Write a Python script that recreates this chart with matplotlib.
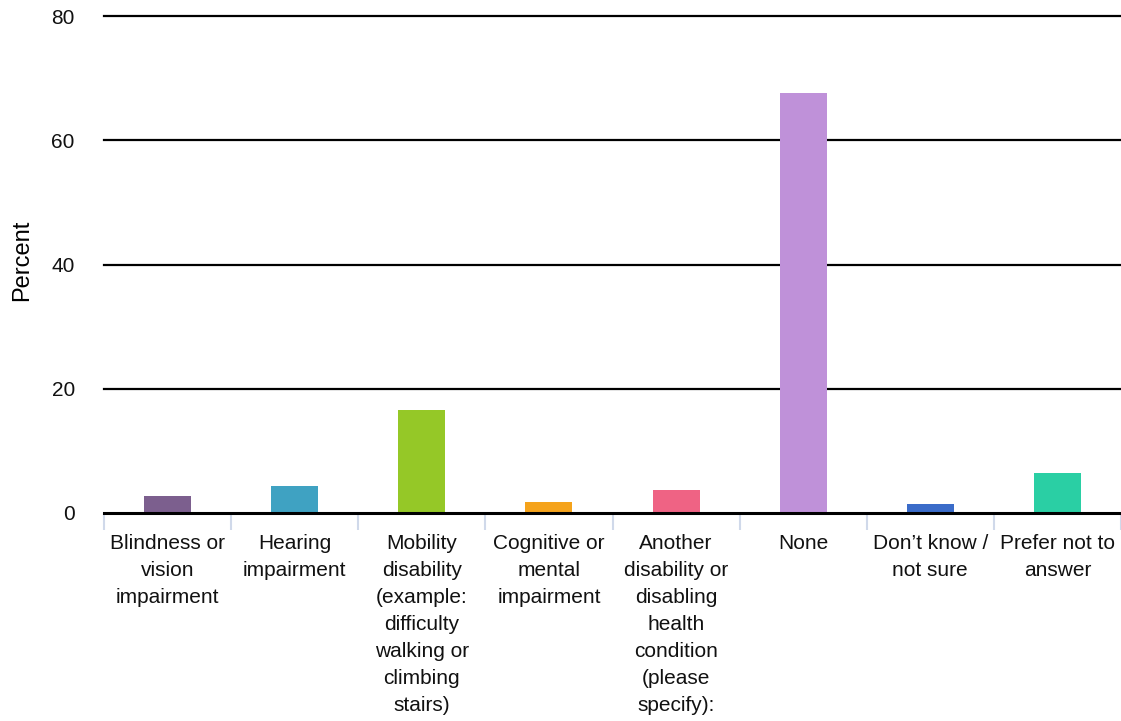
import matplotlib
matplotlib.use("Agg")
import matplotlib.pyplot as plt
import numpy as np
from matplotlib.ticker import FixedLocator

categories = [
    "Blindness or\nvision\nimpairment",
    "Hearing\nimpairment",
    "Mobility\ndisability\n(example:\ndifficulty\nwalking or\nclimbing\nstairs)",
    "Cognitive or\nmental\nimpairment",
    "Another\ndisability or\ndisabling\nhealth\ncondition\n(please\nspecify):",
    "None",
    "Don\u2019t know /\nnot sure",
    "Prefer not to\nanswer",
]
values = [2.7, 4.35, 16.6, 1.8, 3.7, 67.6, 1.45, 6.4]
colors = ["#7C5F8E", "#3FA2C2", "#95C827", "#F5A31B", "#EF6384", "#BF91D9", "#3B6CC9", "#2ACFA4"]
yticks = [0, 20, 40, 60, 80]

plt.rcParams['font.family'] = ['Liberation Sans', 'DejaVu Sans']

fig = plt.figure(figsize=(11.21, 7.21), dpi=100)
ax = fig.add_axes([104/1121, 1 - 513/721, 1 - 104/1121, (513 - 16)/721])

x = np.arange(len(categories))
ax.bar(x, values, width=0.37, color=colors, zorder=3)

ax.set_xlim(-0.5, len(categories) - 0.5)
ax.set_ylim(0, 80)

for s in ax.spines.values():
    s.set_visible(False)

for yv in yticks:
    ax.axhline(yv, color="black", lw=1.6 if yv else 2.2, zorder=2 if yv else 4, clip_on=False)

ax.set_yticks(yticks)
ax.set_yticklabels([str(v) for v in yticks], fontsize=15, color="#111111")
ax.tick_params(axis="y", length=0, pad=21)

ax.set_xticks(x)
ax.set_xticklabels(categories, fontsize=15, color="#111111", linespacing=1.53, va="top")
ax.tick_params(axis="x", which="major", length=0, pad=15)
ax.xaxis.set_minor_locator(FixedLocator(np.arange(-0.5, len(categories), 1.0)))
ax.tick_params(axis="x", which="minor", length=12, width=1.5, color="#D0D9EA", direction="out")

ax.set_ylabel("Percent", fontsize=17)
ax.yaxis.set_label_coords((33 - 104) / 1017, (513 - 260) / 497)

fig.savefig("out.png", dpi=100, facecolor="white")
